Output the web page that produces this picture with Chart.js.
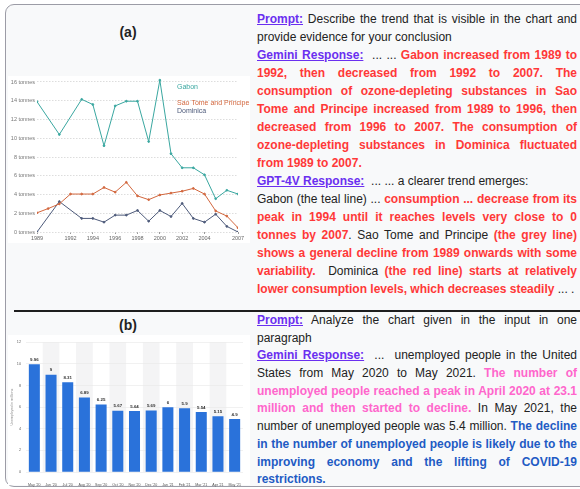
<!DOCTYPE html>
<html><head><meta charset="utf-8">
<script src="https://cdn.jsdelivr.net/npm/chart.js@4.4.1/dist/chart.umd.min.js"></script>
<style>
html,body{margin:0;padding:0;background:#fff;}
body{width:580px;height:489px;position:relative;overflow:hidden;font-family:"Liberation Sans",Arial,sans-serif;}
#frame{position:absolute;left:5px;top:4px;width:620px;height:483px;border:1.5px solid #9c9ca6;border-radius:9px;background:#f8f9fa;box-sizing:border-box;}
.white{position:absolute;background:#fff;}
.ttl{position:absolute;font-weight:bold;font-size:14px;color:#222;width:60px;text-align:center;line-height:16px;}
#divider{position:absolute;left:14px;top:310px;width:580px;height:2px;background:#1e1e1e;}
.txt{position:absolute;left:257px;width:320px;font-size:12px;color:#222;}
.txt div{height:18px;line-height:18px;overflow:visible;}
.bot div{height:17.7px;line-height:17.7px;}
.j{text-align:justify;text-align-last:justify;}
.l{text-align:left;}
.p{color:#6a2ff0;font-weight:bold;text-decoration:underline;}
.r{color:#ff3838;font-weight:bold;}
.k{color:#ff66cc;font-weight:bold;}
.b{color:#1f5bc4;font-weight:bold;}
canvas{position:absolute;}
</style>
</head><body>
<div id="frame"></div>
<div class="white" style="left:8px;top:76px;width:242px;height:167px;"></div>
<div class="white" style="left:8px;top:335px;width:242px;height:150px;"></div>
<div class="ttl" style="left:98px;top:24px;">(a)</div>
<div class="ttl" style="left:98px;top:317px;">(b)</div>
<div id="divider"></div>
<canvas id="ca" width="240" height="175" style="left:10px;top:72px;width:240px;height:175px;"></canvas>
<canvas id="cb" width="240" height="152" style="left:10px;top:335px;width:240px;height:152px;"></canvas>

<div class="txt" style="top:10px;">
<div class="j"><span class="p">Prompt:</span> Describe the trend that is visible in the chart and</div>
<div class="l">provide evidence for your conclusion</div>
<div class="j"><span class="p">Gemini Response:</span>&nbsp; ... ... <span class="r">Gabon increased from 1989 to</span></div>
<div class="j r">1992, then decreased from 1992 to 2007. The</div>
<div class="j r">consumption of ozone-depleting substances in Sao</div>
<div class="j r">Tome and Principe increased from 1989 to 1996, then</div>
<div class="j r">decreased from 1996 to 2007. The consumption of</div>
<div class="j r">ozone-depleting substances in Dominica fluctuated</div>
<div class="l r">from 1989 to 2007.</div>
<div class="l"><span class="p">GPT-4V Response:</span>&nbsp; ... ... a clearer trend emerges:</div>
<div class="j">Gabon (the teal line) ... <span class="r">consumption ... decrease from its</span></div>
<div class="j r">peak in 1994 until it reaches levels very close to 0</div>
<div class="j"><span class="r">tonnes by 2007</span>. Sao Tome and Principe <span class="r">(the grey line)</span></div>
<div class="j r">shows a general decline from 1989 onwards with some</div>
<div class="j"><span class="r">variability.</span>&nbsp; Dominica <span class="r">(the red line) starts at relatively</span></div>
<div class="l"><span class="r">lower consumption levels, which decreases steadily</span> ... .</div>
</div>

<div class="txt bot" style="top:312px;">
<div class="j"><span class="p">Prompt:</span> Analyze the chart given in the input in one</div>
<div class="l">paragraph</div>
<div class="j"><span class="p">Gemini Response:</span>&nbsp; ...&nbsp; unemployed people in the United</div>
<div class="j">States from May 2020 to May 2021. <span class="k">The number of</span></div>
<div class="j k">unemployed people reached a peak in April 2020 at 23.1</div>
<div class="j"><span class="k">million and then started to decline.</span> In May 2021, the</div>
<div class="j">number of unemployed people was 5.4 million. <span class="b">The decline</span></div>
<div class="j b">in the number of unemployed people is likely due to the</div>
<div class="j b">improving economy and the lifting of COVID-19</div>
<div class="l b">restrictions.</div>
</div>

<script>
// ---- Chart (a) data ----
const years = [1989,1990,1991,1992,1993,1994,1995,1996,1997,1998,1999,2000,2001,2002,2003,2004,2005,2006,2007];
const gabon = [13.9,null,10.4,null,14.15,13.6,9.2,13.45,13.95,13.95,9.65,16.2,8.35,6.85,6.85,6.1,3.55,4.45,4.05];
const saoTome = [2.05,2.5,3.0,4.05,4.05,4.05,4.75,4.25,5.3,3.85,3.45,3.95,4.15,4.35,4.65,4.05,2.25,1.7,0.45];
const dominica = [0,null,3.25,null,1.45,1.45,1.05,1.8,1.8,2.3,1.15,2.3,1.65,3.05,1.45,1.05,1.9,0.6,0];
const seriesNames = ["Gabon","Sao Tome and Principe","Dominica"];
const yearTicks = [1989,1992,1994,1996,1998,2000,2002,2004,2007];
const tonneTicks = [0,2,4,6,8,10,12,14,16];

// ---- Chart (b) data ----
const months = ["May '20","Jun '20","Jul '20","Aug '20","Sep '20","Oct '20","Nov '20","Dec '20","Jan '21","Feb '21","Mar '21","Apr '21","May '21"];
const unemployed = [9.96,9,8.31,6.89,6.25,5.67,5.64,5.69,6,5.9,5.54,5.15,4.9];
const millionTicks = [0,2,4,6,8,10,12];

Chart.defaults.font.family = '"Liberation Sans", Arial, sans-serif';
Chart.defaults.animation = false;

const colsA = ['#3aa7a0','#d2673e','#4d5a7a'];
const toXY = arr => years.map((y,i)=>({x:y,y:arr[i]}));

const legendPlugin = {
  id:'sideLegend',
  afterDraw(chart){
    const ctx = chart.ctx;
    ctx.save();
    ctx.font = '7px "Liberation Sans", Arial, sans-serif';
    ctx.textBaseline = 'middle';
    ctx.textAlign = 'left';
    const ys = [15,31,39];
    seriesNames.forEach((n,i)=>{ ctx.fillStyle = colsA[i]; ctx.fillText(n, 167, ys[i]); });
    ctx.restore();
  }
};

new Chart(document.getElementById('ca'), {
  type:'line',
  data:{datasets:[gabon,saoTome,dominica].map((d,i)=>({
    label:seriesNames[i], data:toXY(d), borderColor:colsA[i], backgroundColor:colsA[i],
    borderWidth:1, pointRadius:0.9, pointHoverRadius:0, spanGaps:true, tension:0
  }))},
  options:{
    responsive:false, animation:false,
    layout:{padding:{top:6.25,right:12,left:0,bottom:0}},
    plugins:{legend:{display:false},tooltip:{enabled:false}},
    scales:{
      x:{type:'linear',min:1989,max:2007,
        afterBuildTicks:s=>{s.ticks=yearTicks.map(v=>({value:v}));},
        afterFit:s=>{s.height=15;},
        grid:{drawOnChartArea:false,tickLength:2,color:'#999'},
        border:{display:false},
        ticks:{callback:v=>String(v),font:{size:5.5},color:'#666',padding:1,maxRotation:0,autoSkip:false}},
      y:{min:0,max:16.4,
        afterBuildTicks:s=>{s.ticks=tonneTicks.map(v=>({value:v}));},
        afterFit:s=>{s.width=27;},
        grid:{color:'#d4d4d4',lineWidth:0.8,tickLength:0},
        border:{display:false,dash:[1.5,1.5]},
        ticks:{callback:v=>v+' tonnes',font:{size:5.5},color:'#777',padding:2}}
    }
  },
  plugins:[legendPlugin]
});

const bandPlugin = {
  id:'bands',
  beforeDraw(chart){
    const {ctx, chartArea, scales} = chart;
    const x = scales.x;
    const w = (chartArea.right-chartArea.left)/months.length;
    ctx.save();
    ctx.fillStyle = '#f4f4f5';
    months.forEach((m,i)=>{
      if(i%2===1){
        const c = x.getPixelForValue(i);
        ctx.fillRect(c-w/2, chartArea.top, w, chartArea.bottom-chartArea.top);
      }
    });
    ctx.restore();
  }
};
const valuePlugin = {
  id:'values',
  afterDatasetsDraw(chart){
    const ctx = chart.ctx;
    const meta = chart.getDatasetMeta(0);
    ctx.save();
    ctx.font = 'bold 4.4px "Liberation Sans", Arial, sans-serif';
    ctx.fillStyle = '#333';
    ctx.textAlign = 'center';
    ctx.textBaseline = 'middle';
    meta.data.forEach((bar,i)=>{
      ctx.fillText(String(unemployed[i]), bar.x, bar.y-4.7);
    });
    ctx.restore();
  }
};

new Chart(document.getElementById('cb'), {
  type:'bar',
  data:{labels:months, datasets:[{data:unemployed, backgroundColor:'#2a72da', borderWidth:0,
    categoryPercentage:1, barPercentage:0.66}]},
  options:{
    responsive:false, animation:false,
    layout:{padding:{top:4,right:7,left:0,bottom:0}},
    plugins:{legend:{display:false},tooltip:{enabled:false}},
    scales:{
      x:{grid:{display:false},border:{display:false},
        afterFit:s=>{s.height=15;},
        ticks:{font:{size:3.6},color:'#555',padding:3,maxRotation:0,autoSkip:false}},
      y:{min:0,max:12,
        afterBuildTicks:s=>{s.ticks=millionTicks.map(v=>({value:v}));},
        afterFit:s=>{s.width=16;},
        grid:{color:'#e8e8e8',lineWidth:0.6,tickLength:0},
        border:{display:false},
        title:{display:true,text:'Unemployed in millions',font:{size:3.6},color:'#888',padding:0},
        ticks:{font:{size:3.8},color:'#666',padding:5}}
    }
  },
  plugins:[bandPlugin,valuePlugin]
});
</script>
</body></html>
